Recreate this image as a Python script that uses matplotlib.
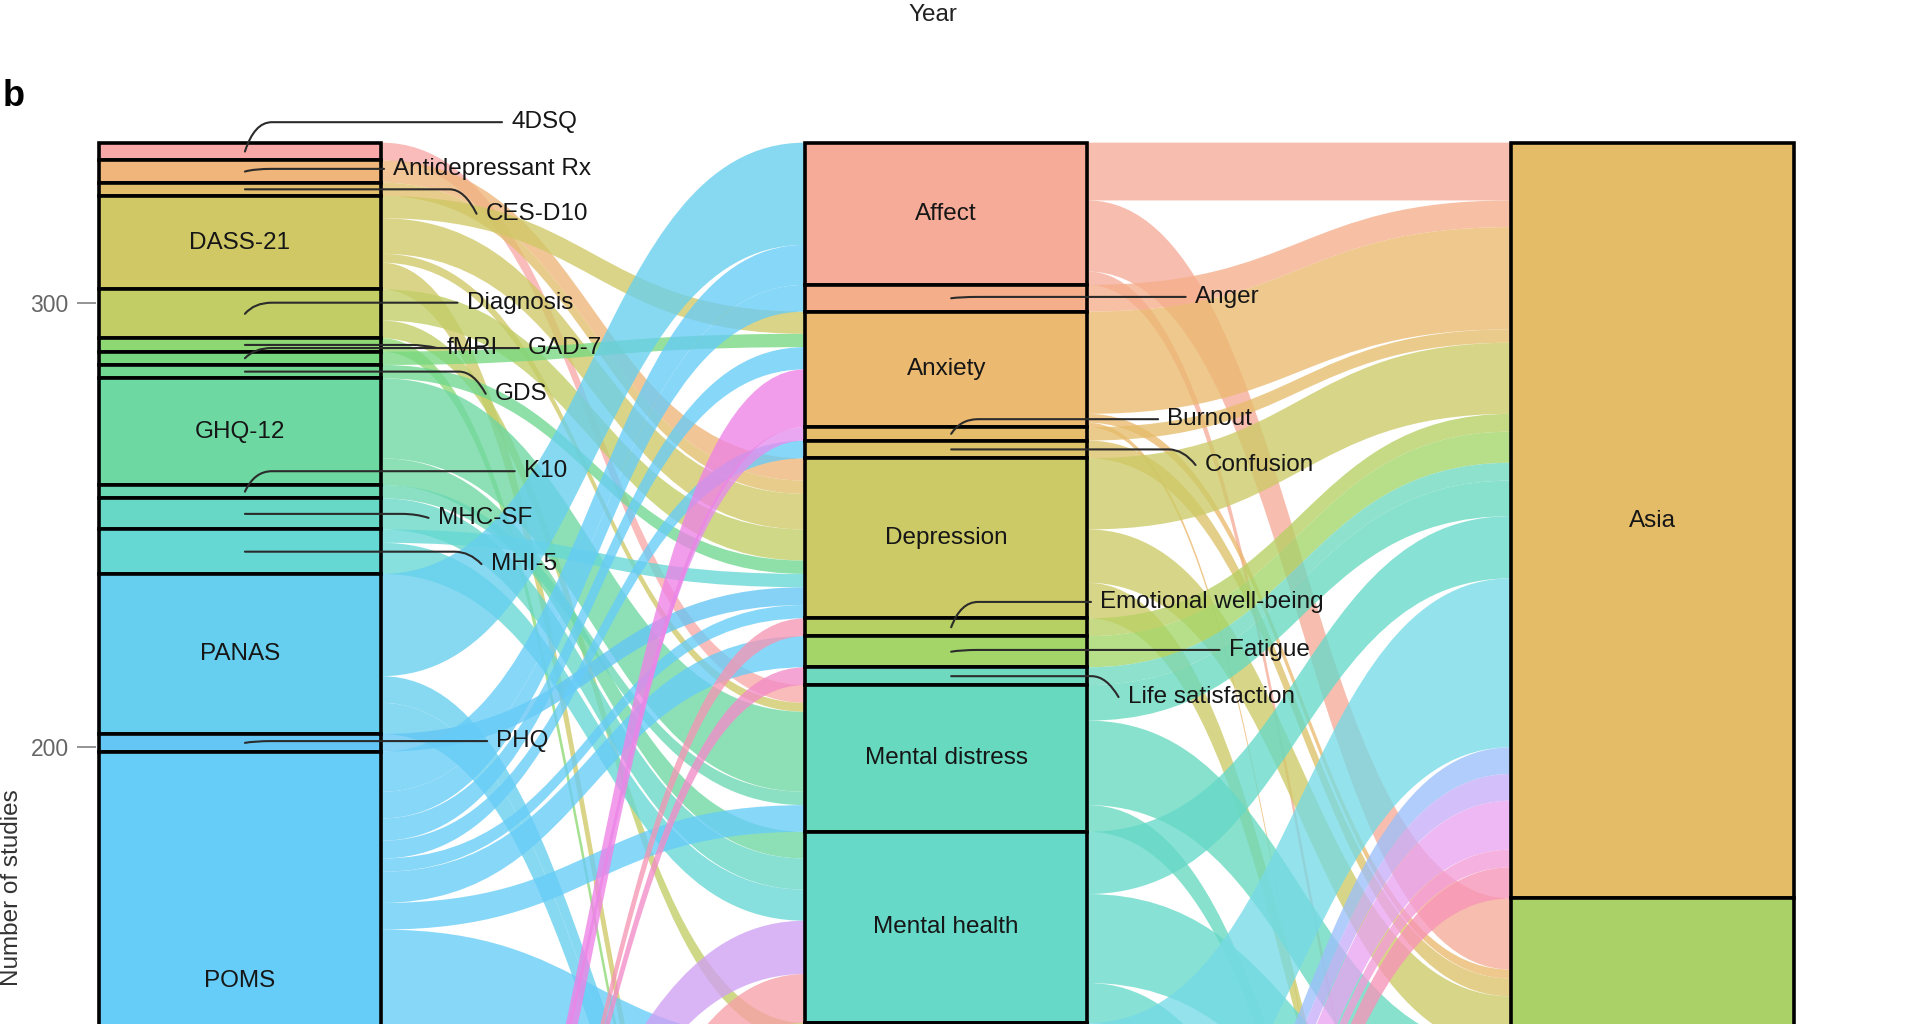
import matplotlib
matplotlib.use("Agg")
import matplotlib.pyplot as plt
from matplotlib.path import Path
from matplotlib.patches import PathPatch, Rectangle

plt.rcParams['font.family'] = ['Liberation Sans', 'DejaVu Sans']

# ------------------------------------------------------------------ data
measures = ["4DSQ", "Antidepressant Rx", "CES-D10", "DASS-21", "Diagnosis", "fMRI",
            "GAD-7", "GDS", "GHQ-12", "K10", "MHC-SF", "MHI-5", "PANAS", "PHQ", "POMS",
            "PSS", "RPWB", "SF-36", "SMBM", "STAI", "SWLS", "WEMWBS", "WHO-5"]
constructs = ["Affect", "Anger", "Anxiety", "Burnout", "Confusion", "Depression",
              "Emotional well-being", "Fatigue", "Life satisfaction", "Mental distress",
              "Mental health", "Mood", "Negative affect", "Positive affect",
              "Psychological well-being", "Quality of life", "Stress", "Vigour", "Well-being"]
regions = ["Asia", "Europe", "North America", "Oceania"]

# measure -> construct (number of studies)
mc_src = ["4DSQ", "Antidepressant Rx", "CES-D10",
          "DASS-21", "DASS-21", "DASS-21", "DASS-21",
          "Diagnosis", "Diagnosis", "fMRI", "GAD-7", "GDS",
          "GHQ-12", "GHQ-12", "K10", "MHC-SF", "MHI-5", "MHI-5",
          "PANAS", "PANAS", "PANAS", "PHQ",
          "POMS", "POMS", "POMS", "POMS", "POMS", "POMS", "POMS", "POMS", "POMS",
          "PSS", "RPWB", "SF-36", "SF-36", "SMBM", "STAI", "SWLS",
          "WEMWBS", "WEMWBS", "WHO-5", "WHO-5"]
mc_dst = ["Mental distress", "Depression", "Depression",
          "Anxiety", "Depression", "Mental distress", "Stress",
          "Depression", "Mood", "Stress", "Anxiety", "Depression",
          "Mental distress", "Mental health", "Mental distress", "Mental health", "Depression", "Mental health",
          "Affect", "Negative affect", "Positive affect", "Depression",
          "Affect", "Anger", "Anxiety", "Confusion", "Depression", "Fatigue", "Mental distress", "Mood", "Vigour",
          "Stress", "Psychological well-being", "Mental health", "Quality of life", "Burnout", "Anxiety",
          "Life satisfaction", "Emotional well-being", "Psychological well-being", "Mental health", "Well-being"]
mc_n = [4, 5, 3,
        5, 8, 2, 6,
        7, 4, 3, 3, 3,
        18, 6, 3, 7, 3, 7,
        23, 6, 7, 4,
        9, 6, 5, 4, 3, 7, 6, 53, 10,
        15, 6, 12, 10, 3, 13, 4,
        4, 8, 11, 10]

# construct -> region
cr_src = ["Affect", "Affect", "Affect", "Anger", "Anxiety", "Anxiety", "Anxiety", "Burnout",
          "Confusion", "Depression", "Depression", "Depression", "Emotional well-being", "Fatigue",
          "Life satisfaction", "Mental distress", "Mental distress", "Mental distress",
          "Mental health", "Mental health", "Mental health", "Mood", "Mood", "Mood",
          "Negative affect", "Positive affect", "Positive affect",
          "Psychological well-being", "Psychological well-being", "Quality of life", "Quality of life",
          "Stress", "Stress", "Stress", "Vigour", "Vigour", "Well-being", "Well-being"]
cr_dst = ["Asia", "Europe", "North America", "Asia", "Asia", "Europe", "Oceania", "Asia",
          "Europe", "Asia", "Europe", "North America", "Asia", "Asia",
          "Asia", "Asia", "Europe", "North America",
          "Asia", "Europe", "North America", "Asia", "Europe", "North America",
          "Asia", "Asia", "Europe",
          "Asia", "Oceania", "Asia", "Europe",
          "Asia", "Europe", "North America", "Europe", "North America", "Europe", "Oceania"]
cr_n = [13, 16, 3, 6, 23, 2, 1, 3,
        4, 16, 12, 8, 4, 7,
        4, 8, 19, 6,
        14, 20, 9, 38, 10, 9,
        6, 6, 1,
        11, 3, 4, 6,
        7, 10, 7, 6, 4, 5, 5]

y_ticks = [200, 300]

# ------------------------------------------------------------------ style
colors = {
    "4DSQ": "#F8A9A7", "Antidepressant Rx": "#EFB57A", "CES-D10": "#E2BE6C",
    "DASS-21": "#CFC865", "Diagnosis": "#C2CD66", "fMRI": "#8DD872", "GAD-7": "#77D880",
    "GDS": "#70D890", "GHQ-12": "#6DD8A2", "K10": "#6AD8B2", "MHC-SF": "#67D8C6",
    "MHI-5": "#66D8D4", "PANAS": "#66CFEF", "PHQ": "#63C6F4", "POMS": "#66CCF8",
    "PSS": "#78B8F8", "RPWB": "#A8A8F8", "SF-36": "#CFA0F4", "SMBM": "#E58EEE",
    "STAI": "#EE82E6", "SWLS": "#F38CC8", "WEMWBS": "#F596B4", "WHO-5": "#F7A0A8",
    "Affect": "#F6AB98", "Anger": "#F5AE8A", "Anxiety": "#EBB96F", "Burnout": "#E6BD6B",
    "Confusion": "#DCC268", "Depression": "#CCCA66", "Emotional well-being": "#B7D063",
    "Fatigue": "#A3D568", "Life satisfaction": "#6ED9BE", "Mental distress": "#66D9BF",
    "Mental health": "#66D9C9", "Mood": "#76DAE6", "Negative affect": "#9CC0FA",
    "Positive affect": "#C7AEF8", "Psychological well-being": "#E8A4F2",
    "Quality of life": "#F39CD8", "Stress": "#F794B8", "Vigour": "#F79CA6",
    "Well-being": "#F7A898",
    "Asia": "#E4BC68", "Europe": "#A9D168", "North America": "#6CCDEB", "Oceania": "#EE9AD8",
}

label_pos = {
    "4DSQ": (1.384, 340.6), "Antidepressant Rx": (1.217, 330.1), "CES-D10": (1.348, 320.0),
    "Diagnosis": (1.321, 300.0), "fMRI": (1.292, 289.8), "GAD-7": (1.408, 289.8),
    "GDS": (1.361, 279.5), "K10": (1.402, 262.1), "MHC-SF": (1.280, 251.6),
    "MHI-5": (1.355, 241.2), "PHQ": (1.363, 201.4),
    "Anger": (2.352, 301.3), "Burnout": (2.313, 273.8), "Confusion": (2.366, 263.5),
    "Emotional well-being": (2.218, 232.7), "Fatigue": (2.400, 221.9),
    "Life satisfaction": (2.257, 211.3),
}

X = [1, 2, 3]
W = 0.4
FLOW_ALPHA = 0.78
FS = 17.5
YLIM = (137.77, 368.08)

# ------------------------------------------------------------------ helpers
def totals(names, keys, ns):
    t = {k: 0 for k in names}
    for k, n in zip(keys, ns):
        t[k] += n
    return t


def stack(order, tot, top):
    pos, y = {}, top
    for s in order:
        pos[s] = (y, y - tot[s])
        y -= tot[s]
    return pos


def lodes(src, dst, n, src_order, dst_order, src_pos, dst_pos):
    idx = range(len(n))
    sy, dy = {}, {}
    for s in src_order:
        fl = sorted([i for i in idx if src[i] == s], key=lambda i: dst_order.index(dst[i]))
        y = src_pos[s][0]
        for i in fl:
            sy[i] = (y, y - n[i])
            y -= n[i]
    for d in dst_order:
        fl = sorted([i for i in idx if dst[i] == d], key=lambda i: src_order.index(src[i]))
        y = dst_pos[d][0]
        for i in fl:
            dy[i] = (y, y - n[i])
            y -= n[i]
    return sy, dy


def draw_flow(ax, x0, x1, s, d, color):
    xm = (x0 + x1) / 2
    verts = [(x0, s[0]), (xm, s[0]), (xm, d[0]), (x1, d[0]),
             (x1, d[1]), (xm, d[1]), (xm, s[1]), (x0, s[1]), (x0, s[0])]
    codes = [Path.MOVETO, Path.CURVE4, Path.CURVE4, Path.CURVE4,
             Path.LINETO, Path.CURVE4, Path.CURVE4, Path.CURVE4, Path.CLOSEPOLY]
    ax.add_patch(PathPatch(Path(verts, codes), facecolor=color, alpha=FLOW_ALPHA,
                           edgecolor='none', zorder=1))


def leader(ax, x0, y0, xe, ye, b=0.038):
    if ye >= y0:   # label above: bend at start
        verts = [(x0, y0), (x0 + 0.35 * b, ye), (x0 + b, ye), (xe, ye)]
        codes = [Path.MOVETO, Path.CURVE3, Path.CURVE3, Path.LINETO]
    else:          # label below: bend at end
        verts = [(x0, y0), (xe - b, y0), (xe - 0.45 * b, y0), (xe, ye)]
        codes = [Path.MOVETO, Path.LINETO, Path.CURVE3, Path.CURVE3]
    ax.add_patch(PathPatch(Path(verts, codes), facecolor='none', edgecolor='#2b2b2b',
                           lw=1.5, capstyle='round', zorder=5))


# ------------------------------------------------------------------ layout
tot_m = totals(measures, mc_src, mc_n)
tot_c = totals(constructs, mc_dst, mc_n)
tot_r = totals(regions, cr_dst, cr_n)
TOP = sum(mc_n)

pos_m = stack(measures, tot_m, TOP)
pos_c = stack(constructs, tot_c, TOP)
pos_r = stack(regions, tot_r, TOP)

fig = plt.figure(figsize=(19.2, 10.24), dpi=100)
ax = fig.add_axes([0, 0, 1, 1])
ax.set_xlim(0.6602, 3.3788)
ax.set_ylim(*YLIM)

# flows
sy, dy = lodes(mc_src, mc_dst, mc_n, measures, constructs, pos_m, pos_c)
for i in range(len(mc_n)):
    draw_flow(ax, X[0] + W / 2, X[1] - W / 2, sy[i], dy[i], colors[mc_src[i]])
sy2, dy2 = lodes(cr_src, cr_dst, cr_n, constructs, regions, pos_c, pos_r)
for i in range(len(cr_n)):
    draw_flow(ax, X[1] + W / 2, X[2] - W / 2, sy2[i], dy2[i], colors[cr_src[i]])

# strata + labels (labels only for strata whose centre lies inside the visible window)
for xa, order, pos in [(X[0], measures, pos_m), (X[1], constructs, pos_c), (X[2], regions, pos_r)]:
    for s in order:
        top, bot = pos[s]
        ax.add_patch(Rectangle((xa - W / 2, bot), W, top - bot, facecolor=colors[s],
                               edgecolor='black', lw=2.6, zorder=3))
        mid = (top + bot) / 2
        if mid < YLIM[0] + 3:
            continue
        if top - bot >= 20:
            ax.text(xa, mid, s, ha='center', va='center', fontsize=FS, color='#161616', zorder=6)
        elif s in label_pos:
            lx, ly = label_pos[s]
            leader(ax, xa + 0.007, mid, lx - 0.013, ly)
            ax.text(lx, ly, s, ha='left', va='center', fontsize=FS, color='#161616', zorder=6)

# axes styling
for sp in ['top', 'right', 'bottom']:
    ax.spines[sp].set_visible(False)
ax.spines['left'].set_position(('data', X[0] - W / 2 - 0.004))
ax.spines['left'].set_color('none')
ax.set_xticks([])
ax.set_yticks(y_ticks)
ax.set_yticklabels([str(t) for t in y_ticks])
ax.tick_params(axis='y', length=13.5, width=1.1, color='#777777', labelsize=16.5,
               labelcolor='#666666', pad=6)
ax.patch.set_alpha(0)

fig.text(12 / 1920, 1 - 888 / 1024, "Number of studies", rotation=90, ha='center',
         va='center', fontsize=17.5, color='#333333')
fig.text(933 / 1920, 1 - 15 / 1024, "Year", ha='center', va='center', fontsize=17.5,
         color='#222222')
fig.text(0.0015, 1 - 96 / 1024, "b", ha='left', va='center', fontsize=26,
         fontweight='bold', color='black')

fig.savefig("out.png", dpi=100)
